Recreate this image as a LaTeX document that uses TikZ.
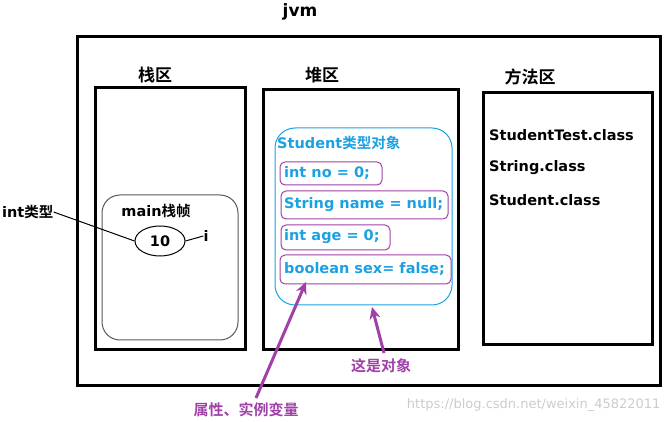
\documentclass[tikz,border=0pt]{standalone}
\usepackage{fontspec}
\setmainfont{DejaVu Sans}
\newfontfamily\cjk{Noto Sans CJK SC}[BoldFont={* Bold}]
\usetikzlibrary{arrows.meta,shapes.geometric}
\definecolor{cy}{HTML}{1BA1E2}
\definecolor{pu}{HTML}{A040A8}
\begin{document}
\begin{tikzpicture}[x=1pt,y=-1pt,
  t/.style={font=\bfseries\fontsize{14.5}{17}\selectfont,inner sep=0pt},
  area/.style={draw,line width=3pt},
  attr/.style={draw=pu,rounded corners=5pt,line width=1pt},
  parr/.style={draw=pu,line width=3pt,-{Stealth[length=12pt,width=11pt]}}]
\useasboundingbox (0,0) rectangle (670,422);
\draw[line width=3pt] (77,37) rectangle (660,385);
\node[t,font=\bfseries\fontsize{17}{20}\selectfont] (jvm) at (300,12) {jvm};
\node[t,font=\cjk\bfseries\fontsize{17}{20}\selectfont] (sl) at (155,75) {栈区};
\node[t,font=\cjk\bfseries\fontsize{17}{20}\selectfont] (hl) at (322,75) {堆区};
\node[t,font=\cjk\bfseries\fontsize{17}{20}\selectfont] (ml) at (530,77) {方法区};
\draw[area] (95,88) rectangle (245,350);
\draw[area] (263,90) rectangle (458,350);
\draw[area] (483,93) rectangle (652,345);
\draw[gray!70!black,rounded corners=18pt,line width=1pt] (102,195) rectangle (238,340);
\node[t] (mf) at (156,211) {main{\cjk 栈帧}};
\node[draw,ellipse,line width=1pt,minimum width=50pt,minimum height=30pt,t] (ten) at (160,241) {10};
\node[t] (i) at (206,236) {i};
\node[t,anchor=west] (int) at (2,212) {int{\cjk 类型}};
\draw[line width=1pt] (ten.east) -- (i.west);
\draw[line width=1pt] (int.east) -- (ten.west);
\draw[cy,rounded corners=20pt,line width=1pt] (275,128) rectangle (452,305);
\node[t,cy,anchor=west] (so) at (277,143) {Student{\cjk 类型对象}};
\node[t,cy,anchor=west] (a1) at (284,173) {int no = 0;};
\node[t,cy,anchor=west] (a2) at (284,205) {String name = null;};
\node[t,cy,anchor=west] (a3) at (284,237) {int age = 0;};
\node[t,cy,anchor=west] (a4) at (284,269) {boolean sex= false;};
\draw[attr] (280,162) rectangle (382,185);
\draw[attr] (281,191) rectangle (448,219);
\draw[attr] (281,225) rectangle (390,250);
\draw[attr] (280,255) rectangle (451,284);
\node[t,anchor=west] (c1) at (489,135) {StudentTest.class};
\node[t,anchor=west] (c2) at (489,168) {String.class};
\node[t,anchor=west] (c3) at (489,200) {Student.class};
\node[t,pu,font=\cjk\bfseries\fontsize{15}{17}\selectfont] (prop) at (246,410) {属性、实例变量};
\node[t,pu,font=\cjk\bfseries\fontsize{15}{17}\selectfont] (obj) at (381,366) {这是对象};
\coordinate (p1) at (306,282);
\coordinate (p2) at (372,307);
\draw[parr] (256,398) -- (p1);
\draw[parr] (384,353) -- (p2);
\node[gray!40,font=\fontsize{13}{15}\selectfont,anchor=east] (wm) at (664,405) {https://blog.csdn.net/weixin\_45822011};
\end{tikzpicture}
\end{document}
